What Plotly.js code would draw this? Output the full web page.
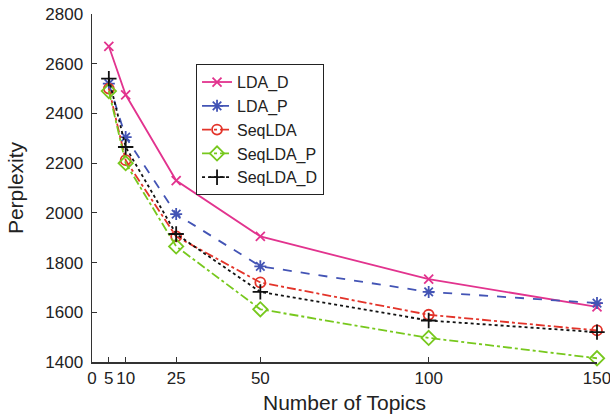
<!DOCTYPE html>
<html>
<head>
<meta charset="utf-8">
<script src="https://cdn.plot.ly/plotly-3.0.1.min.js"></script>
<style>html,body{margin:0;padding:0;background:#fff;}#chart{width:610px;height:416px;}</style>
</head>
<body>
<div id="chart"></div>
<script>
// Number of topics on the x axis
const topics = [5, 10, 25, 50, 100, 150];

// Perplexity per model
const ldaD = [2670, 2475, 2130, 1905, 1733, 1622];
const ldaP = [2520, 2305, 1995, 1785, 1682, 1637];
const seqLDA = [2500, 2212, 1905, 1720, 1590, 1527];
const seqLDAP = [2490, 2200, 1865, 1612, 1497, 1415];
const seqLDAD = [2540, 2265, 1915, 1682, 1567, 1520];

const xTicks = [0, 5, 10, 25, 50, 100, 150];
const xTickText = ['0', '5', '10', '25', '50', '100', '150'];
const yTicks = [1400, 1600, 1800, 2000, 2200, 2400, 2600, 2800];

function series(name, y, color, dash, symbol, size) {
  return {
    x: topics, y: y, name: name, type: 'scatter', mode: 'lines+markers',
    line: {color: color, width: 1.8, dash: dash},
    marker: {symbol: symbol, size: size, color: color, line: {color: color, width: 1.8}},
    cliponaxis: false
  };
}

const traces = [
  series('LDA_D', ldaD, '#e2338e', 'solid', 'x-thin-open', 9),
  series('LDA_P', ldaP, '#4354b5', 'dash', 'asterisk-open', 10),
  series('SeqLDA', seqLDA, '#e3342a', 'dashdot', 'circle-open', 10),
  series('SeqLDA_P', seqLDAP, '#77c81d', 'dashdot', 'diamond-open', 11),
  series('SeqLDA_D', seqLDAD, '#111111', 'dot', 'cross-thin-open', 11)
];

const layout = {
  width: 610, height: 416,
  margin: {l: 92, r: 13, t: 14, b: 54},
  paper_bgcolor: '#fff', plot_bgcolor: '#fff',
  font: {family: 'Liberation Sans, Arial, sans-serif', size: 17, color: '#222'},
  showlegend: true,
  legend: {
    x: 0.206, y: 0.856, xanchor: 'left', yanchor: 'top',
    bordercolor: '#222', borderwidth: 1, bgcolor: '#fff',
    font: {size: 16, color: '#222'}, tracegroupgap: 0, itemwidth: 30
  },
  xaxis: {
    range: [0, 150], tickvals: xTicks, ticktext: xTickText,
    ticks: 'inside', ticklen: 5, tickwidth: 1, tickcolor: '#333',
    ticklabeloverflow: 'allow',
    showline: true, linecolor: '#333', linewidth: 1.5,
    showgrid: false, zeroline: false,
    title: {text: 'Number of Topics', font: {size: 21, color: '#222'}, standoff: 8}
  },
  yaxis: {
    range: [1400, 2800], tickvals: yTicks,
    ticks: 'inside', ticklen: 5, tickwidth: 1, tickcolor: '#333',
    ticklabelstandoff: 4,
    showline: true, linecolor: '#333', linewidth: 1.5,
    showgrid: false, zeroline: false,
    title: {text: 'Perplexity', font: {size: 21, color: '#222'}, standoff: 16}
  }
};

Plotly.newPlot('chart', traces, layout, {displayModeBar: false, staticPlot: true});
</script>
</body>
</html>
